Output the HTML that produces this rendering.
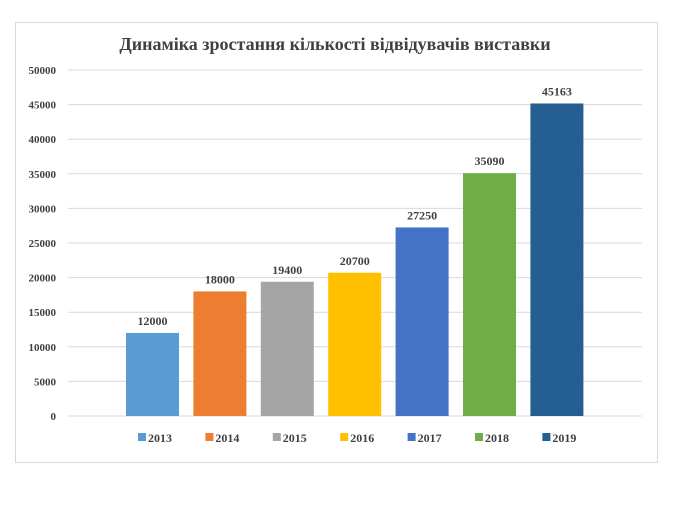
<!DOCTYPE html>
<html><head><meta charset="utf-8"><style>
body{margin:0;background:#fff;width:675px;height:507px;overflow:hidden}
svg text{font-family:"Liberation Serif",serif}
</style></head><body>
<svg width="675" height="507">
<rect x="15.5" y="22.5" width="642" height="440" fill="#fff" stroke="#d9d9d9"/>
<text x="335" y="50" text-anchor="middle" font-size="18" font-weight="bold" fill="#404040">Динаміка зростання кількості відвідувачів виставки</text>
<g id="grid"></g><g id="bars"></g><g id="legend"></g>
</svg>
<script>
const categories=["2013","2014","2015","2016","2017","2018","2019"];
const values=[12000,18000,19400,20700,27250,35090,45163];
const colors=["#5b9bd5","#ed7d31","#a5a5a5","#ffc000","#4472c4","#70ad47","#255e91"];
const ticks=[0,5000,10000,15000,20000,25000,30000,35000,40000,45000,50000];
const NS="http://www.w3.org/2000/svg";
const y0=416,y1=70,vmax=50000;
const y=v=>y0-(v/vmax)*(y0-y1);
const x=i=>126+i*67.4;
const bw=53;
function mk(t,a,p){const e=document.createElementNS(NS,t);for(const k in a)e.setAttribute(k,a[k]);p.appendChild(e);return e;}
const g=document.getElementById('grid');
ticks.forEach(t=>{
 const l=mk('line',{x1:68,x2:642,y1:y(t),y2:y(t),stroke:'#d9d9d9'},g);
 
 
 const tx=mk('text',{x:56,y:y(t)+4,'text-anchor':'end','font-size':11,'font-weight':'bold',fill:'#404040'},g);
 tx.textContent=t;
 
 
});
const b=document.getElementById('bars');
values.forEach((v,i)=>{
 const r=mk('rect',{x:x(i),y:y(v),width:bw,height:y0-y(v),fill:colors[i]},b);
 
 
 const t=mk('text',{x:x(i)+bw/2,y:y(v)-8,'text-anchor':'middle','font-size':12,'font-weight':'bold',fill:'#404040'},b);
 t.textContent=v;
 
 
});
const lg=document.getElementById('legend');
categories.forEach((c,i)=>{
 const lx=138+i*67.4;
 const s=mk('rect',{x:lx,y:433,width:8,height:8,fill:colors[i]},lg);
 
 
 const t=mk('text',{x:lx+10,y:442,'font-size':12,'font-weight':'bold',fill:'#404040'},lg);
 t.textContent=c;
 
 
});
</script>
</body></html>
